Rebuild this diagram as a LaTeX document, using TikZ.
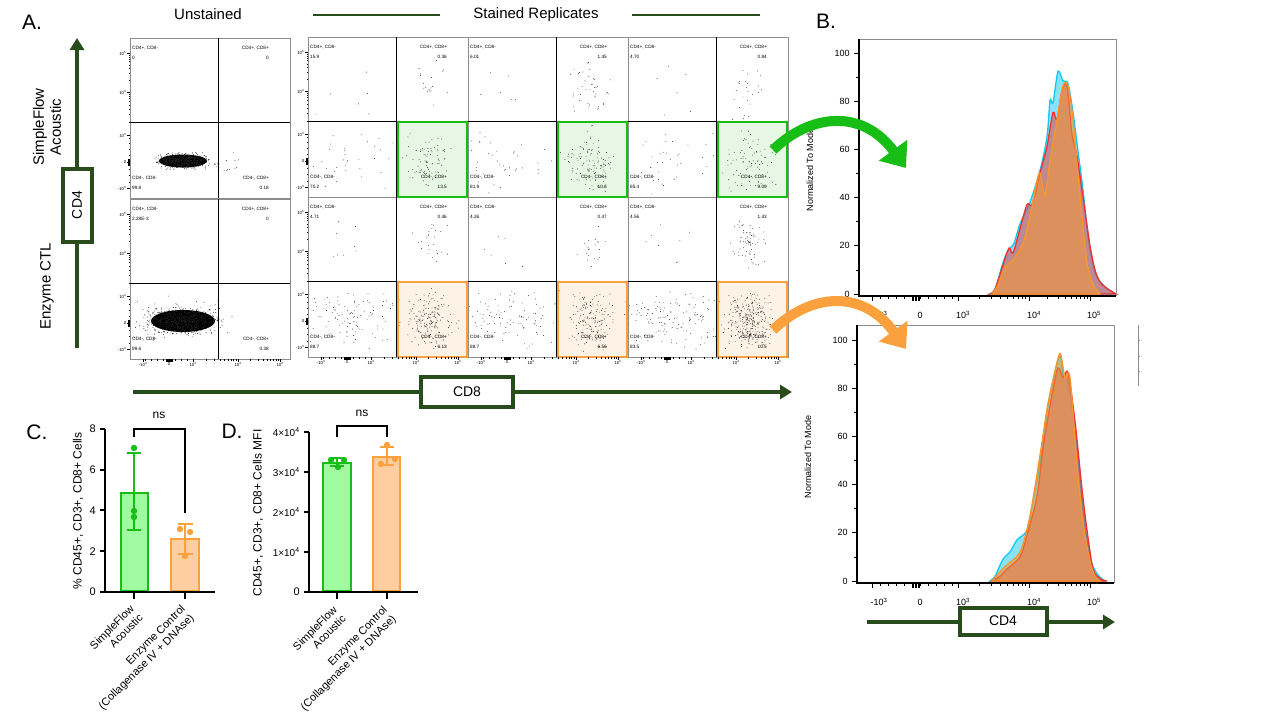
\documentclass[tikz,border=0pt]{standalone}
\usepackage{fontspec}
\setmainfont{Liberation Sans}
\usetikzlibrary{arrows.meta,positioning}

\definecolor{axisgreen}{RGB}{40,76,28}
\definecolor{gategreen}{RGB}{22,190,22}
\definecolor{gatefillgreen}{RGB}{230,247,228}
\definecolor{gateorange}{RGB}{250,160,60}
\definecolor{gatefillorange}{RGB}{253,242,230}
\definecolor{barfillgreen}{RGB}{160,250,160}
\definecolor{barfillorange}{RGB}{253,206,160}
\definecolor{histblue}{RGB}{20,200,240}
\definecolor{histred}{RGB}{240,50,50}
\definecolor{historange}{RGB}{250,150,40}
\definecolor{framegray}{RGB}{140,140,140}

\tikzset{
  panellab/.style={font=\fontsize{21}{24}\selectfont, inner sep=0pt},
  headlab/.style={font=\fontsize{15}{17}\selectfont},
  grouplab/.style={font=\fontsize{15}{17}\selectfont, align=center},
  axisarrow/.style={draw=axisgreen, line width=4pt, -{Triangle[length=12pt,width=14pt]}},
  axisbox/.style={draw=axisgreen, line width=4pt, fill=white, font=\fontsize{14}{16}\selectfont, inner sep=0pt},
  qlab/.style={font=\fontsize{4.7}{5}\selectfont, inner sep=0pt},
  ticklab/.style={font=\fontsize{4.3}{5}\selectfont, inner sep=0.5pt},
  plotframe/.style={draw=framegray, line width=0.8pt},
  divider/.style={draw=black, line width=0.8pt},
  gatebox/.style={line width=2.2pt},
  flowdot/.style={fill=black!85},
  histlab/.style={font=\fontsize{9}{10}\selectfont},
  curvearrow/.style={line width=10pt, -{Triangle[length=22pt,width=34pt]}},
  barlab/.style={font=\fontsize{12}{14}\selectfont},
  xlab/.style={font=\fontsize{11}{12.5}\selectfont, rotate=45, anchor=north east, align=right, inner sep=0pt},
  bartick/.style={font=\fontsize{11}{12}\selectfont},
  axisline/.style={line width=2pt},
}

% random cloud of events: cx, cy, sx, sy, n
\newcommand{\cloud}[5]{%
  \foreach \k in {1,...,#5}{%
    \fill[flowdot] ({#1+#3*(rand+rand)},{#2+#4*(rand+rand)}) circle (0.45);
  }%
}
% quadrant plot: left, top, four values
\newcommand{\flowplot}[6]{%
  \draw[plotframe] (#1,#2) rectangle ({#1+160},{#2+160});
  \draw[divider] ({#1+88},#2) -- ({#1+88},{#2+160});
  \draw[divider] (#1,{#2+84}) -- ({#1+160},{#2+84});
  \node[qlab, anchor=west] (pm#1-#2) at ({#1+2},{#2+10}) {CD4+, CD8-};
  \node[qlab, anchor=west] (pmv#1-#2) at ({#1+2},{#2+20}) {#3};
  \node[qlab, anchor=east] (pp#1-#2) at ({#1+139},{#2+10}) {CD4+, CD8+};
  \node[qlab, anchor=east] (ppv#1-#2) at ({#1+139},{#2+20}) {#4};
  \node[qlab, anchor=west] (mm#1-#2) at ({#1+2},{#2+140}) {CD4-, CD8-};
  \node[qlab, anchor=west] (mmv#1-#2) at ({#1+2},{#2+150}) {#5};
  \node[qlab, anchor=east] (mp#1-#2) at ({#1+139},{#2+140}) {CD4-, CD8+};
  \node[qlab, anchor=east] (mpv#1-#2) at ({#1+139},{#2+150}) {#6};
}
\newcommand{\gatefill}[3]{\fill[#3] ({#1+89},{#2+85}) rectangle ({#1+159},{#2+160});}
\newcommand{\gateedge}[3]{\draw[#3, gatebox] ({#1+89.6},{#2+85.2}) rectangle ({#1+158.9},{#2+160});}
% log axes of the dot plots
\newcommand{\flowyaxis}[2]{%
  \foreach \dy/\lab in {15/10\textsuperscript{5}, 54/10\textsuperscript{4}, 97/10\textsuperscript{3}, 124/0, 150/-10\textsuperscript{3}}{%
    \draw[line width=0.5pt] (#1,{#2+\dy}) -- ++(-3,0) node[ticklab, anchor=east] {\lab};}
  \foreach \m in {0.301,0.477,0.602,0.699,0.778,0.845,0.903,0.954}{%
    \draw[line width=0.4pt] (#1,{#2+54-39*\m}) -- ++(-1.5,0);
    \draw[line width=0.4pt] (#1,{#2+97-43*\m}) -- ++(-1.5,0);}
  \foreach \d in {7,13,19,24,-7,-13,-20}{\draw[line width=0.4pt] (#1,{#2+124-\d}) -- ++(-1.5,0);}
  \foreach \d in {-3,-2,...,3}{\draw[line width=0.6pt] (#1,{#2+124+\d}) -- ++(-2.5,0);}
}
\newcommand{\flowxaxis}[2]{%
  \foreach \dx/\lab in {13/-10\textsuperscript{3}, 39/0, 63/10\textsuperscript{3}, 108/10\textsuperscript{4}, 150/10\textsuperscript{5}}{%
    \draw[line width=0.5pt] ({#1+\dx},#2) -- ++(0,3) node[ticklab, anchor=north] {\lab};}
  \foreach \m in {0.301,0.477,0.602,0.699,0.778,0.845,0.903,0.954}{%
    \draw[line width=0.4pt] ({#1+63+45*\m},#2) -- ++(0,1.5);
    \draw[line width=0.4pt] ({#1+108+42*\m},#2) -- ++(0,1.5);}
  \foreach \d in {6,12,18,-6,-12,-18,-24}{\draw[line width=0.4pt] ({#1+39+\d},#2) -- ++(0,1.5);}
  \foreach \d in {-3,-2,...,3}{\draw[line width=0.6pt] ({#1+39+\d},#2) -- ++(0,2.5);}
}
% histogram frame: left, right, top, axis
\newcommand{\histframe}[4]{%
  \draw[framegray, line width=0.7pt] (#1,#3) -- (#2,#3) -- (#2,#4);
  \foreach \v in {10,30,...,90}{\draw[line width=0.8pt] (#1,{#4-2-2.41*\v}) -- ++(-3,0);}
  \foreach \v in {0,20,...,100}{\draw[line width=1pt] (#1,{#4-2-2.41*\v}) -- ++(-5.5,0) node[histlab, anchor=east] {\v};}
  \draw[line width=1.3pt] (#1,#3) -- (#1,#4) -- (#2,#4);
  \foreach \x in {872,958,1029,1090}{\draw[line width=1pt] (\x,#4) -- ++(0,5);}
  \foreach \m in {0.301,0.477,0.602,0.699,0.778,0.845,0.903,0.954}{%
    \draw[line width=0.8pt] ({958+71*\m},#4) -- ++(0,3);
    \draw[line width=0.8pt] ({1029+61*\m},#4) -- ++(0,3);}
  \foreach \x in {880,888,...,952}{\draw[line width=0.8pt] (\x,#4) -- ++(0,3);}
  \foreach \x in {912,913.5,...,920}{\draw[line width=0.8pt] (\x,#4) -- ++(0,4.5);}
  \node[histlab] at (879,{#4+19}) {-10\textsuperscript{3}};
  \node[histlab] at (920,{#4+19}) {0};
  \node[histlab] at (963,{#4+19}) {10\textsuperscript{3}};
  \node[histlab] at (1034,{#4+19}) {10\textsuperscript{4}};
  \node[histlab] at (1094,{#4+19}) {10\textsuperscript{5}};
}

\begin{document}
\begin{tikzpicture}[x=1pt, y=-1pt]
\useasboundingbox (0,0) rectangle (1280,720);
\fill[white] (0,0) rectangle (1280,720);
\pgfmathsetseed{2024}

% panel letters and headings
\node[panellab] (lettA) at (32,22) {A.};
\node[panellab] (lettB) at (826,21) {B.};
\node[panellab] (lettC) at (37,432) {C.};
\node[panellab] (lettD) at (232,431) {D.};
\node[headlab] (unst) at (208,14) {Unstained};
\node[headlab] (stain) at (536,15) {Stained Replicates};
\draw[axisgreen, line width=2pt] (313,15) -- (440,15);
\draw[axisgreen, line width=2pt] (632,15) -- (760,15);
\node[grouplab, rotate=90] (sflow) at (47,127) {SimpleFlow\\Acoustic};
\node[grouplab, rotate=90] (enzctl) at (47,286) {Enzyme CTL};

% CD4 / CD8 axis arrows
\coordinate (cd4tail) at (77,348);
\coordinate (cd4tip) at (77,38);
\draw[axisarrow] (cd4tail) -- (cd4tip);
\node[axisbox, rotate=90, minimum width=73pt, minimum height=29pt] (cd4box) at (cd4tail |- 0,205) {CD4};
\coordinate (cd8tail) at (133,392);
\coordinate (cd8tip) at (792,392);
\draw[axisarrow] (cd8tail) -- (cd8tip);
\node[axisbox, minimum width=92pt, minimum height=30pt] (cd8box) at (467,392) {CD8};

% unstained
\begin{scope}
  \clip (130,38) rectangle (290,359);
  \fill (183,161) ellipse (24 and 6.5);
  \cloud{183}{161}{15}{4.5}{450}
  \cloud{214}{163}{8}{5}{12}
  \cloud{232}{166}{9}{8}{8}
  \fill (183,321) ellipse (32 and 11);
  \cloud{183}{321}{21}{7.5}{560}
  \cloud{183}{318}{28}{13}{110}
\end{scope}
\flowplot{130}{38}{0}{0}{99.8}{0.18}
\flowplot{130}{199}{2.28E-3}{0}{99.6}{0.38}
\flowyaxis{130}{38}
\flowyaxis{130}{199}
\flowxaxis{130}{359}

% stained replicates, SimpleFlow row
\gatefill{308}{37}{gatefillgreen}
\gatefill{468}{37}{gatefillgreen}
\gatefill{628}{37}{gatefillgreen}
\gatefill{308}{197}{gatefillorange}
\gatefill{468}{197}{gatefillorange}
\gatefill{628}{197}{gatefillorange}
\begin{scope}
  \clip (308,37) rectangle (788,357);
  \cloud{350}{95}{20}{15}{6}
  \cloud{428}{88}{12}{18}{18}
  \cloud{350}{160}{28}{17}{35}
  \cloud{430}{160}{12}{15}{85}
  \cloud{510}{95}{20}{15}{6}
  \cloud{588}{92}{12}{18}{45}
  \cloud{512}{162}{28}{17}{40}
  \cloud{590}{162}{14}{16}{115}
  \cloud{670}{95}{20}{15}{6}
  \cloud{748}{92}{10}{18}{25}
  \cloud{672}{162}{28}{17}{35}
  \cloud{750}{160}{14}{17}{90}
  % enzyme row
  \cloud{345}{245}{18}{15}{8}
  \cloud{430}{242}{10}{14}{25}
  \cloud{350}{318}{28}{16}{110}
  \cloud{430}{318}{12}{16}{170}
  \cloud{505}{245}{18}{15}{6}
  \cloud{590}{245}{10}{14}{20}
  \cloud{510}{318}{28}{16}{100}
  \cloud{590}{320}{12}{16}{170}
  \cloud{665}{245}{18}{15}{8}
  \cloud{748}{245}{10}{14}{70}
  \cloud{672}{318}{28}{16}{130}
  \cloud{748}{320}{13}{16}{300}
\end{scope}
\flowplot{308}{37}{15.9}{0.36}{70.2}{13.5}
\flowplot{468}{37}{6.01}{1.45}{81.9}{10.6}
\flowplot{628}{37}{4.70}{0.84}{85.4}{9.09}
\flowplot{308}{197}{4.71}{0.46}{88.7}{6.13}
\flowplot{468}{197}{4.26}{0.47}{88.7}{6.56}
\flowplot{628}{197}{4.56}{1.43}{83.5}{10.5}
\gateedge{308}{37}{gategreen}
\gateedge{468}{37}{gategreen}
\gateedge{628}{37}{gategreen}
\gateedge{308}{197}{gateorange}
\gateedge{468}{197}{gateorange}
\gateedge{628}{197}{gateorange}
\flowyaxis{308}{37}
\flowyaxis{308}{197}
\flowxaxis{308}{357}
\flowxaxis{468}{357}
\flowxaxis{628}{357}

% B. histograms
\begin{scope}[shift={(0,294)}, y=2.42pt]
  \filldraw[fill=histblue, fill opacity=0.5, draw=histblue, line width=1.3pt] plot[smooth] coordinates {(990,0) (995,2) (1003,13) (1008,18) (1014,21) (1020,29) (1030,38) (1040,51) (1047,65) (1050,80) (1053,79) (1058,92) (1063,88) (1068,87) (1073,75) (1078,59) (1083,43) (1088,24) (1093,12) (1097,7) (1105,3) (1116,0)} -- cycle;
  \filldraw[fill=histred, fill opacity=0.5, draw=histred, line width=1.3pt] plot[smooth] coordinates {(990,0) (995,2) (1003,12) (1009,19) (1013,17) (1020,27) (1027,37) (1032,37) (1040,50) (1047,61) (1053,75) (1057,72) (1062,84) (1067,86) (1072,66) (1077,57) (1083,40) (1090,20) (1095,10) (1100,5) (1108,2) (1116,0)} -- cycle;
  \filldraw[fill=historange, fill opacity=0.5, draw=historange, line width=1.3pt] plot[smooth] coordinates {(992,0) (997,3) (1005,11) (1013,14) (1023,21) (1030,32) (1036,45) (1040,50) (1045,41) (1050,55) (1057,72) (1063,86) (1068,86) (1073,72) (1080,40) (1087,13) (1093,4) (1100,0)} -- cycle;
\end{scope}
\histframe{859}{1116}{39}{296}
\node[histlab, rotate=90] (ylabB1) at (810,170) {Normalized To Mode};

\begin{scope}[shift={(0,581)}, y=2.42pt]
  \filldraw[fill=histblue, fill opacity=0.5, draw=histblue, line width=1.3pt] plot[smooth] coordinates {(990,0) (995,2) (1003,9) (1010,12) (1017,17) (1027,21) (1033,33) (1040,49) (1047,70) (1053,83) (1060,93) (1063,85) (1067,84) (1072,72) (1077,55) (1083,30) (1090,10) (1097,3) (1105,0)} -- cycle;
  \filldraw[fill=histred, fill opacity=0.5, draw=histred, line width=1.3pt] plot[smooth] coordinates {(992,0) (1000,2) (1007,5) (1020,10) (1027,19) (1037,35) (1043,55) (1052,77) (1058,88) (1063,84) (1068,86) (1075,66) (1082,38) (1087,21) (1093,5) (1100,1) (1107,0)} -- cycle;
  \filldraw[fill=historange, fill opacity=0.5, draw=historange, line width=1.3pt] plot[smooth] coordinates {(992,0) (1005,6) (1020,12) (1030,27) (1040,52) (1047,71) (1053,83) (1060,94) (1065,84) (1070,84) (1077,48) (1083,24) (1090,8) (1095,2) (1100,0)} -- cycle;
\end{scope}
\histframe{857}{1114}{325}{583}
\node[histlab, rotate=90] (ylabB2) at (808,457) {Normalized To Mode};
\draw[framegray, line width=0.9pt] (1138,325) -- (1138,386);
\foreach \yy in {340,356,371}{\draw[framegray, line width=0.6pt] (1138,\yy) -- ++(1.5,0);}

\coordinate (cd4btail) at (867,622);
\coordinate (cd4btip) at (1115,622);
\draw[axisarrow] (cd4btail) -- (cd4btip);
\node[axisbox, minimum width=87pt, minimum height=27pt] (cd4bbox) at (1003,621) {CD4};

% C. frequency bars
\filldraw[fill=barfillgreen, draw=gategreen, line width=2.2pt] (121,591) rectangle (148,493);
\filldraw[fill=barfillorange, draw=gateorange, line width=2.2pt] (171,591) rectangle (199,539);
\draw[axisline] (105,429) -- (105,592) -- (215,592);
\foreach \v in {0,2,4,6,8}{\draw[axisline] (105,{592-20.4*\v}) -- ++(-5,0) node[bartick, anchor=east] {\v};}
\draw[axisline] (134,592) -- ++(0,7);
\draw[axisline] (185,592) -- ++(0,7);
\draw[gategreen, line width=1.2pt] (134,453) -- (134,530) (127,453) -- (141,453) (127,530) -- (141,530);
\draw[gateorange, line width=1.2pt] (185,524) -- (185,554) (178,524) -- (193,524) (178,554) -- (193,554);
\foreach \p in {(134,448),(134,511),(134,517)}{\fill[gategreen] \p circle (3.2);}
\foreach \p in {(180,529),(190,532),(185,556)}{\fill[gateorange] \p circle (3.2);}
\draw[axisline] (134,437) -- (134,429) -- (185,429) -- (185,513);
\node[barlab] (nsC) at (159,415) {ns};
\node[barlab, rotate=90] (ylabC) at (78,511) {\% CD45+, CD3+, CD8+ Cells};
\node[xlab] (xC1) at (129,604) {SimpleFlow\\Acoustic};
\node[xlab] (xC2) at (180,604) {Enzyme Control\\(Collagenase IV + DNAse)};

% D. MFI bars
\filldraw[fill=barfillgreen, draw=gategreen, line width=2.2pt] (323,591) rectangle (351,463);
\filldraw[fill=barfillorange, draw=gateorange, line width=2.2pt] (373,591) rectangle (400,457);
\draw[axisline] (309,432) -- (309,592) -- (418,592);
\draw[axisline] (309,592) -- ++(-5,0) node[bartick, anchor=east] {0};
\foreach \v in {1,2,3,4}{\draw[axisline] (309,{592-40*\v}) -- ++(-5,0) node[bartick, anchor=east, font=\fontsize{10}{11}\selectfont] {\v×10\textsuperscript{4}};}
\draw[axisline] (337,592) -- ++(0,7);
\draw[axisline] (387,592) -- ++(0,7);
\draw[gategreen, line width=1.2pt] (337,458) -- (337,466) (330,458) -- (344,458) (330,466) -- (344,466);
\draw[gateorange, line width=1.2pt] (387,447) -- (387,465) (380,447) -- (394,447) (380,465) -- (394,465);
\foreach \p in {(331,460),(344,460),(338,467)}{\fill[gategreen] \p circle (3.2);}
\foreach \p in {(387,445),(381,464),(395,459)}{\fill[gateorange] \p circle (3.2);}
\draw[axisline] (337,437) -- (337,426) -- (387,426) -- (387,437);
\node[barlab] (nsD) at (362,413) {ns};
\node[barlab, rotate=90] (ylabD) at (258,513) {CD45+, CD3+, CD8+ Cells MFI};
\node[xlab] (xD1) at (332,605) {SimpleFlow\\Acoustic};
\node[xlab] (xD2) at (382,605) {Enzyme Control\\(Collagenase IV + DNAse)};

% gate -> histogram arrows
\coordinate (gstart) at (773,150);
\coordinate (gend) at (906,168);
\draw[gategreen, curvearrow] (gstart) .. controls (810,114) and (862,108) .. (gend);
\coordinate (ostart) at (773,330);
\coordinate (oend) at (906,349);
\draw[gateorange, curvearrow] (ostart) .. controls (810,294) and (862,288) .. (oend);
\end{tikzpicture}
\end{document}
